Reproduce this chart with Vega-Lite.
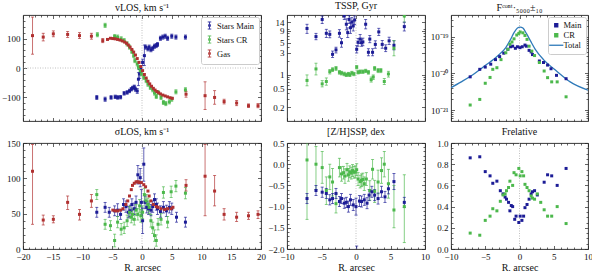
{
"$schema":"https://vega.github.io/schema/vega-lite/v6.json",
"background":"white",
"padding":{"left":0,"right":2,"top":0,"bottom":0},
"config":{
 "font":"Liberation Serif",
 "view":{"stroke":"#222","strokeWidth":0.9},
 "axis":{"grid":false,"domain":false,"tickColor":"#222","tickWidth":0.7,"tickSize":-3.5,"labelFont":"Liberation Serif","labelFontSize":9,"labelColor":"#111","labelPadding":6.5,"labelFlush":false,"labelOverlap":false,"titleFont":"Liberation Serif","titleFontSize":10,"titleFontWeight":"normal","titleColor":"#111","titlePadding":1},
 "title":{"font":"Liberation Serif","fontSize":10,"fontWeight":"normal","color":"#111","offset":2,"anchor":"middle"},
 "legend":{"labelFont":"Liberation Serif","labelFontSize":8.5,"labelColor":"#111"}
},
"datasets":{
"vlos":[
{"s":"Stars Main","R":-7.6,"v":-100,"lo":-107,"hi":-93},{"s":"Stars Main","R":-6.2,"v":-106,"lo":-113,"hi":-99},{"s":"Stars Main","R":-5.2,"v":-100,"lo":-106,"hi":-94},{"s":"Stars Main","R":-4.5,"v":-98,"lo":-104,"hi":-92},{"s":"Stars Main","R":-4.1,"v":-100,"lo":-106,"hi":-94},{"s":"Stars Main","R":-3.6,"v":-99,"lo":-105,"hi":-93},{"s":"Stars Main","R":-3.0,"v":-86,"lo":-92,"hi":-80},{"s":"Stars Main","R":-2.5,"v":-83,"lo":-89,"hi":-77},{"s":"Stars Main","R":-2.1,"v":-78,"lo":-84,"hi":-72},{"s":"Stars Main","R":-1.8,"v":-72,"lo":-78,"hi":-66},{"s":"Stars Main","R":-1.6,"v":-68,"lo":-74,"hi":-62},{"s":"Stars Main","R":-1.3,"v":-64,"lo":-70,"hi":-58},{"s":"Stars Main","R":-1.1,"v":-72,"lo":-79,"hi":-65},{"s":"Stars Main","R":-0.8,"v":-78,"lo":-86,"hi":-70},{"s":"Stars Main","R":-0.6,"v":-38,"lo":-60,"hi":-16},{"s":"Stars Main","R":-0.4,"v":-20,"lo":-35,"hi":-5},{"s":"Stars Main","R":-0.2,"v":-3,"lo":-14,"hi":8},{"s":"Stars Main","R":0.1,"v":19,"lo":8,"hi":30},{"s":"Stars Main","R":0.4,"v":42,"lo":8,"hi":78},{"s":"Stars Main","R":0.6,"v":71,"lo":64,"hi":78},{"s":"Stars Main","R":1.0,"v":65,"lo":58,"hi":72},{"s":"Stars Main","R":1.2,"v":71,"lo":64,"hi":78},{"s":"Stars Main","R":1.5,"v":62,"lo":55,"hi":69},{"s":"Stars Main","R":1.8,"v":67,"lo":60,"hi":74},{"s":"Stars Main","R":2.1,"v":74,"lo":67,"hi":81},{"s":"Stars Main","R":2.4,"v":76,"lo":69,"hi":83},{"s":"Stars Main","R":2.6,"v":80,"lo":73,"hi":87},{"s":"Stars Main","R":3.1,"v":101,"lo":94,"hi":108},{"s":"Stars Main","R":3.5,"v":105,"lo":98,"hi":112},{"s":"Stars Main","R":3.9,"v":108,"lo":101,"hi":115},{"s":"Stars Main","R":4.3,"v":101,"lo":94,"hi":108},{"s":"Stars Main","R":5.0,"v":108,"lo":101,"hi":115},{"s":"Stars Main","R":5.7,"v":105,"lo":98,"hi":112},{"s":"Stars Main","R":7.3,"v":105,"lo":98,"hi":112},
{"s":"Stars CR","R":-7.5,"v":113,"lo":106,"hi":120},{"s":"Stars CR","R":-6.2,"v":145,"lo":138,"hi":152},{"s":"Stars CR","R":-4.6,"v":107,"lo":100,"hi":114},{"s":"Stars CR","R":-4.1,"v":105,"lo":98,"hi":112},{"s":"Stars CR","R":-3.5,"v":99,"lo":92,"hi":106},{"s":"Stars CR","R":-3.0,"v":93,"lo":86,"hi":100},{"s":"Stars CR","R":-2.5,"v":82,"lo":75,"hi":89},{"s":"Stars CR","R":-2.1,"v":71,"lo":64,"hi":78},{"s":"Stars CR","R":-1.7,"v":56,"lo":49,"hi":63},{"s":"Stars CR","R":-1.4,"v":42,"lo":35,"hi":49},{"s":"Stars CR","R":-1.2,"v":25,"lo":18,"hi":32},{"s":"Stars CR","R":-0.8,"v":14,"lo":7,"hi":21},{"s":"Stars CR","R":-0.6,"v":2,"lo":-5,"hi":9},{"s":"Stars CR","R":-0.3,"v":-9,"lo":-16,"hi":-2},{"s":"Stars CR","R":-0.1,"v":-20,"lo":-27,"hi":-13},{"s":"Stars CR","R":0.3,"v":-32,"lo":-39,"hi":-25},{"s":"Stars CR","R":0.7,"v":-43,"lo":-50,"hi":-36},{"s":"Stars CR","R":1.0,"v":-55,"lo":-62,"hi":-48},{"s":"Stars CR","R":1.4,"v":-66,"lo":-73,"hi":-59},{"s":"Stars CR","R":1.8,"v":-74,"lo":-81,"hi":-67},{"s":"Stars CR","R":2.1,"v":-85,"lo":-92,"hi":-78},{"s":"Stars CR","R":2.4,"v":-97,"lo":-104,"hi":-90},{"s":"Stars CR","R":2.7,"v":-83,"lo":-90,"hi":-76},{"s":"Stars CR","R":3.2,"v":-100,"lo":-107,"hi":-93},{"s":"Stars CR","R":3.6,"v":-117,"lo":-124,"hi":-110},{"s":"Stars CR","R":4.0,"v":-121,"lo":-128,"hi":-114},{"s":"Stars CR","R":4.6,"v":-115,"lo":-122,"hi":-108},{"s":"Stars CR","R":5.0,"v":-106,"lo":-113,"hi":-99},{"s":"Stars CR","R":5.7,"v":-81,"lo":-88,"hi":-74},{"s":"Stars CR","R":7.3,"v":-74,"lo":-81,"hi":-67},
{"s":"Gas","R":-18.4,"v":110,"lo":47,"hi":173},{"s":"Gas","R":-16.6,"v":105,"lo":92,"hi":118},{"s":"Gas","R":-14.9,"v":116,"lo":106,"hi":126},{"s":"Gas","R":-12.5,"v":114,"lo":104,"hi":124},{"s":"Gas","R":-10.5,"v":110,"lo":100,"hi":120},{"s":"Gas","R":-8.5,"v":108,"lo":98,"hi":118},{"s":"Gas","R":-6.6,"v":93,"lo":86,"hi":100},{"s":"Gas","R":-5.8,"v":97},
{"s":"Gas","R":-5.3,"v":101},{"s":"Gas","R":-4.9,"v":100},{"s":"Gas","R":-4.5,"v":99},{"s":"Gas","R":-4.1,"v":97},{"s":"Gas","R":-3.7,"v":95},{"s":"Gas","R":-3.3,"v":92},{"s":"Gas","R":-2.9,"v":88},{"s":"Gas","R":-2.6,"v":84},{"s":"Gas","R":-2.3,"v":78},{"s":"Gas","R":-2.0,"v":71},{"s":"Gas","R":-1.7,"v":63},{"s":"Gas","R":-1.4,"v":54},{"s":"Gas","R":-1.1,"v":44},{"s":"Gas","R":-0.8,"v":32},{"s":"Gas","R":-0.5,"v":19},{"s":"Gas","R":-0.2,"v":5},{"s":"Gas","R":0.1,"v":-9},{"s":"Gas","R":0.4,"v":-22},{"s":"Gas","R":0.7,"v":-34},{"s":"Gas","R":1.0,"v":-45},{"s":"Gas","R":1.3,"v":-54},{"s":"Gas","R":1.6,"v":-62},{"s":"Gas","R":1.9,"v":-69},{"s":"Gas","R":2.2,"v":-75},{"s":"Gas","R":2.5,"v":-80},{"s":"Gas","R":2.8,"v":-84},{"s":"Gas","R":3.1,"v":-88},{"s":"Gas","R":3.5,"v":-92},{"s":"Gas","R":3.9,"v":-95},{"s":"Gas","R":4.3,"v":-98},{"s":"Gas","R":4.7,"v":-101},{"s":"Gas","R":5.1,"v":-103},
{"s":"Gas","R":7.4,"v":-89,"lo":-99,"hi":-79},{"s":"Gas","R":10.6,"v":-94,"lo":-141,"hi":-47},{"s":"Gas","R":12.2,"v":-100,"lo":-123,"hi":-77},{"s":"Gas","R":13.8,"v":-114,"lo":-122,"hi":-106},{"s":"Gas","R":15.9,"v":-119,"lo":-128,"hi":-110},{"s":"Gas","R":17.9,"v":-128,"lo":-134,"hi":-122},{"s":"Gas","R":19.5,"v":-128,"lo":-135,"hi":-121}
],
"tssp":[
{"s":"Main","R":-7.1,"v":10.2,"lo":8.0,"hi":12.6},{"s":"Main","R":-5.8,"v":6.8,"lo":5.8,"hi":8.0},{"s":"Main","R":-4.9,"v":16,"lo":13,"hi":19},{"s":"Main","R":-4.3,"v":8.0,"lo":6.5,"hi":9.8},{"s":"Main","R":-3.8,"v":7.6,"lo":6.4,"hi":9.0},{"s":"Main","R":-3.4,"v":2.8,"lo":2.4,"hi":3.3},{"s":"Main","R":-2.9,"v":3.5,"lo":3.0,"hi":4.0},{"s":"Main","R":-2.4,"v":8.0,"lo":6.6,"hi":9.6},{"s":"Main","R":-2.1,"v":5.0,"lo":4.0,"hi":6.2},{"s":"Main","R":-1.7,"v":19,"lo":16,"hi":23},{"s":"Main","R":-1.4,"v":12.6,"lo":9.5,"hi":16.5},{"s":"Main","R":-1.2,"v":8.3,"lo":6.5,"hi":10.5},{"s":"Main","R":-1.0,"v":16,"lo":13,"hi":19.5},{"s":"Main","R":-0.8,"v":10.6,"lo":8.0,"hi":14},{"s":"Main","R":-0.6,"v":14,"lo":11,"hi":17.5},{"s":"Main","R":-0.4,"v":11.6,"lo":9,"hi":15},{"s":"Main","R":-0.2,"v":15.6,"lo":12.5,"hi":19},{"s":"Main","R":0.1,"v":3.6,"lo":3.0,"hi":4.3},{"s":"Main","R":0.3,"v":5.1,"lo":4.2,"hi":6.2},{"s":"Main","R":0.6,"v":6.0,"lo":4.8,"hi":7.5},{"s":"Main","R":0.8,"v":5.0,"lo":4.2,"hi":6.0},{"s":"Main","R":1.0,"v":5.2,"lo":4.3,"hi":6.3},{"s":"Main","R":1.4,"v":12.6,"lo":10,"hi":16},{"s":"Main","R":1.8,"v":3.1,"lo":2.6,"hi":3.7},{"s":"Main","R":2.0,"v":6.0,"lo":5.0,"hi":7.2},{"s":"Main","R":2.4,"v":3.1,"lo":2.6,"hi":3.7},{"s":"Main","R":2.8,"v":4.6,"lo":3.8,"hi":5.5},{"s":"Main","R":3.3,"v":8.6,"lo":7.2,"hi":10.3},{"s":"Main","R":3.8,"v":4.6,"lo":3.8,"hi":5.6},{"s":"Main","R":4.3,"v":3.8,"lo":3.2,"hi":4.5},{"s":"Main","R":4.8,"v":5.5,"lo":4.6,"hi":6.6},{"s":"Main","R":5.5,"v":4.4,"lo":3.5,"hi":5.5},{"s":"Main","R":7.0,"v":11.2,"lo":9.0,"hi":14},
{"s":"CR","R":-7.1,"v":0.76,"lo":0.58,"hi":1.0},{"s":"CR","R":-5.8,"v":1.35,"lo":1.0,"hi":1.8},{"s":"CR","R":-4.9,"v":0.64,"lo":0.55,"hi":0.75},{"s":"CR","R":-4.3,"v":0.72,"lo":0.6,"hi":0.86},{"s":"CR","R":-3.8,"v":1.18,"lo":1.05,"hi":1.32},{"s":"CR","R":-3.4,"v":1.3,"lo":1.18,"hi":1.43},{"s":"CR","R":-2.9,"v":1.39,"lo":1.26,"hi":1.52},{"s":"CR","R":-2.4,"v":1.14,"lo":1.04,"hi":1.25},{"s":"CR","R":-2.1,"v":1.1,"lo":1.0,"hi":1.2},{"s":"CR","R":-1.7,"v":1.05,"lo":0.96,"hi":1.15},{"s":"CR","R":-1.4,"v":1.0,"lo":0.92,"hi":1.09},{"s":"CR","R":-1.1,"v":1.05,"lo":0.96,"hi":1.14},{"s":"CR","R":-0.9,"v":1.0,"lo":0.92,"hi":1.09},{"s":"CR","R":-0.6,"v":1.1,"lo":1.0,"hi":1.2},{"s":"CR","R":-0.3,"v":1.05,"lo":0.96,"hi":1.14},{"s":"CR","R":0.1,"v":1.47,"lo":1.35,"hi":1.6},{"s":"CR","R":0.3,"v":1.14,"lo":1.05,"hi":1.24},{"s":"CR","R":0.6,"v":1.18,"lo":1.08,"hi":1.28},{"s":"CR","R":1.0,"v":1.18,"lo":1.08,"hi":1.28},{"s":"CR","R":1.4,"v":1.22,"lo":1.12,"hi":1.33},{"s":"CR","R":1.8,"v":1.14,"lo":1.04,"hi":1.25},{"s":"CR","R":2.2,"v":0.79,"lo":0.7,"hi":0.9},{"s":"CR","R":2.5,"v":0.9,"lo":0.8,"hi":1.0},{"s":"CR","R":2.7,"v":1.39,"lo":1.26,"hi":1.52},{"s":"CR","R":3.2,"v":1.25,"lo":1.12,"hi":1.38},{"s":"CR","R":3.6,"v":1.25,"lo":1.12,"hi":1.38},{"s":"CR","R":4.1,"v":0.72,"lo":0.62,"hi":0.84},{"s":"CR","R":4.7,"v":1.05,"lo":0.9,"hi":1.2},{"s":"CR","R":5.5,"v":3.8,"lo":2.6,"hi":5.6},{"s":"CR","R":7.0,"v":19,"lo":14,"hi":30}
],
"flux":[
{"s":"Total","R":-10,"v":4.1e-21},{"s":"Total","R":-8.5,"v":5.9e-21},{"s":"Total","R":-7.1,"v":8.5e-21},{"s":"Total","R":-5.1,"v":1.6e-20},{"s":"Total","R":-3.2,"v":3.0e-20},{"s":"Total","R":-2.0,"v":5.1e-20},{"s":"Total","R":-1.3,"v":8.6e-20},{"s":"Total","R":-0.8,"v":1.31e-19},{"s":"Total","R":-0.3,"v":1.77e-19},{"s":"Total","R":0.1,"v":1.87e-19},{"s":"Total","R":0.5,"v":1.75e-19},{"s":"Total","R":1.0,"v":1.25e-19},{"s":"Total","R":1.6,"v":7.8e-20},{"s":"Total","R":2.3,"v":4.6e-20},{"s":"Total","R":3.5,"v":2.4e-20},{"s":"Total","R":5.4,"v":1.17e-20},{"s":"Total","R":7.4,"v":5.9e-21},{"s":"Total","R":10,"v":3.5e-21},
{"s":"Main","R":-7.2,"v":8.1e-21},{"s":"Main","R":-5.8,"v":1.3e-20},{"s":"Main","R":-5.0,"v":1.5e-20},{"s":"Main","R":-4.2,"v":1.8e-20},{"s":"Main","R":-3.5,"v":2.4e-20},{"s":"Main","R":-2.9,"v":2.9e-20},{"s":"Main","R":-2.3,"v":3.6e-20},{"s":"Main","R":-1.7,"v":4.6e-20},{"s":"Main","R":-1.3,"v":5.4e-20},{"s":"Main","R":-1.0,"v":5.6e-20},{"s":"Main","R":-0.6,"v":4.9e-20},{"s":"Main","R":-0.3,"v":5.4e-20},{"s":"Main","R":0.07,"v":5.1e-20},{"s":"Main","R":0.4,"v":5.4e-20},{"s":"Main","R":0.8,"v":6.0e-20},{"s":"Main","R":1.0,"v":5.6e-20},{"s":"Main","R":1.4,"v":4.3e-20},{"s":"Main","R":1.7,"v":3.9e-20},{"s":"Main","R":1.9,"v":3.3e-20},{"s":"Main","R":2.9,"v":2.2e-20},{"s":"Main","R":3.5,"v":2.0e-20},{"s":"Main","R":4.1,"v":1.7e-20},{"s":"Main","R":4.6,"v":1.35e-20},{"s":"Main","R":5.4,"v":8.9e-21},{"s":"Main","R":6.8,"v":7.2e-21},
{"s":"CR","R":-7.2,"v":1.37e-21},{"s":"CR","R":-5.8,"v":1.95e-21},{"s":"CR","R":-5.0,"v":5.4e-21},{"s":"CR","R":-4.3,"v":7.8e-21},{"s":"CR","R":-3.9,"v":1.3e-20},{"s":"CR","R":-3.3,"v":1.44e-20},{"s":"CR","R":-2.7,"v":2.4e-20},{"s":"CR","R":-2.0,"v":3.7e-20},{"s":"CR","R":-1.7,"v":4.6e-20},{"s":"CR","R":-1.4,"v":6.3e-20},{"s":"CR","R":-1.1,"v":7.3e-20},{"s":"CR","R":-0.8,"v":8.9e-20},{"s":"CR","R":-0.4,"v":1.13e-19},{"s":"CR","R":-0.1,"v":1.25e-19},{"s":"CR","R":0.1,"v":1.37e-19},{"s":"CR","R":0.5,"v":1.3e-19},{"s":"CR","R":0.8,"v":1.1e-19},{"s":"CR","R":1.1,"v":8.6e-20},{"s":"CR","R":1.4,"v":5.6e-20},{"s":"CR","R":1.8,"v":4.1e-20},{"s":"CR","R":2.2,"v":3.1e-20},{"s":"CR","R":2.9,"v":2.0e-20},{"s":"CR","R":3.6,"v":1.17e-20},{"s":"CR","R":4.1,"v":7.7e-21},{"s":"CR","R":4.7,"v":5.9e-21},{"s":"CR","R":5.5,"v":5.9e-21},{"s":"CR","R":6.8,"v":2.3e-21}
],
"sigma":[
{"s":"Stars Main","R":-7.6,"v":52,"lo":45,"hi":59},{"s":"Stars Main","R":-6.2,"v":59,"lo":52,"hi":66},{"s":"Stars Main","R":-5.5,"v":52,"lo":45,"hi":59},{"s":"Stars Main","R":-4.6,"v":54,"lo":47,"hi":61},{"s":"Stars Main","R":-4.1,"v":55,"lo":46,"hi":64},{"s":"Stars Main","R":-3.6,"v":49,"lo":42,"hi":56},{"s":"Stars Main","R":-3.1,"v":63,"lo":55,"hi":71},{"s":"Stars Main","R":-2.7,"v":60,"lo":52,"hi":68},{"s":"Stars Main","R":-2.3,"v":52,"lo":44,"hi":60},{"s":"Stars Main","R":-2.0,"v":54,"lo":46,"hi":62},{"s":"Stars Main","R":-1.7,"v":63,"lo":55,"hi":71},{"s":"Stars Main","R":-1.3,"v":57,"lo":49,"hi":65},{"s":"Stars Main","R":-1.0,"v":66,"lo":57,"hi":75},{"s":"Stars Main","R":-0.7,"v":105,"lo":92,"hi":118},{"s":"Stars Main","R":-0.3,"v":101,"lo":88,"hi":114},{"s":"Stars Main","R":-0.1,"v":66,"lo":48,"hi":84},{"s":"Stars Main","R":0.1,"v":40,"lo":22,"hi":58},{"s":"Stars Main","R":0.3,"v":120,"lo":96,"hi":143},{"s":"Stars Main","R":0.5,"v":66,"lo":57,"hi":75},{"s":"Stars Main","R":0.8,"v":59,"lo":51,"hi":67},{"s":"Stars Main","R":1.1,"v":57,"lo":49,"hi":65},{"s":"Stars Main","R":1.5,"v":55,"lo":47,"hi":63},{"s":"Stars Main","R":1.8,"v":60,"lo":52,"hi":68},{"s":"Stars Main","R":2.1,"v":70,"lo":62,"hi":78},{"s":"Stars Main","R":2.4,"v":63,"lo":55,"hi":71},{"s":"Stars Main","R":2.6,"v":57,"lo":49,"hi":65},{"s":"Stars Main","R":3.1,"v":53,"lo":45,"hi":61},{"s":"Stars Main","R":3.6,"v":59,"lo":51,"hi":67},{"s":"Stars Main","R":4.1,"v":54,"lo":46,"hi":62},{"s":"Stars Main","R":4.6,"v":59,"lo":51,"hi":67},{"s":"Stars Main","R":5.0,"v":57,"lo":49,"hi":65},{"s":"Stars Main","R":5.8,"v":45,"lo":38,"hi":52},{"s":"Stars Main","R":7.3,"v":38,"lo":31,"hi":45},
{"s":"Stars CR","R":-7.6,"v":77,"lo":70,"hi":84},{"s":"Stars CR","R":-6.2,"v":35,"lo":28,"hi":42},{"s":"Stars CR","R":-5.3,"v":33,"lo":26,"hi":40},{"s":"Stars CR","R":-4.6,"v":12,"lo":3,"hi":21},{"s":"Stars CR","R":-4.1,"v":38,"lo":30,"hi":46},{"s":"Stars CR","R":-3.5,"v":28,"lo":20,"hi":36},{"s":"Stars CR","R":-3.0,"v":30,"lo":22,"hi":38},{"s":"Stars CR","R":-2.5,"v":40,"lo":32,"hi":48},{"s":"Stars CR","R":-2.1,"v":52,"lo":44,"hi":60},{"s":"Stars CR","R":-1.8,"v":45,"lo":37,"hi":53},{"s":"Stars CR","R":-1.6,"v":49,"lo":41,"hi":57},{"s":"Stars CR","R":-1.3,"v":42,"lo":34,"hi":50},{"s":"Stars CR","R":-1.0,"v":55,"lo":47,"hi":63},{"s":"Stars CR","R":-0.7,"v":49,"lo":41,"hi":57},{"s":"Stars CR","R":-0.4,"v":61,"lo":52,"hi":70},{"s":"Stars CR","R":-0.2,"v":47,"lo":38,"hi":56},{"s":"Stars CR","R":0.1,"v":52,"lo":43,"hi":61},{"s":"Stars CR","R":0.4,"v":77,"lo":68,"hi":86},{"s":"Stars CR","R":0.7,"v":68,"lo":59,"hi":77},{"s":"Stars CR","R":1.0,"v":63,"lo":54,"hi":72},{"s":"Stars CR","R":1.2,"v":59,"lo":50,"hi":68},{"s":"Stars CR","R":1.5,"v":40,"lo":31,"hi":49},{"s":"Stars CR","R":1.8,"v":30,"lo":22,"hi":38},{"s":"Stars CR","R":2.1,"v":19,"lo":11,"hi":27},{"s":"Stars CR","R":2.4,"v":12,"lo":4,"hi":20},{"s":"Stars CR","R":2.7,"v":35,"lo":27,"hi":43},{"s":"Stars CR","R":3.2,"v":42,"lo":34,"hi":50},{"s":"Stars CR","R":3.6,"v":80,"lo":72,"hi":88},{"s":"Stars CR","R":4.3,"v":38,"lo":30,"hi":46},{"s":"Stars CR","R":4.9,"v":81,"lo":73,"hi":89},{"s":"Stars CR","R":5.7,"v":89,"lo":81,"hi":97},{"s":"Stars CR","R":7.3,"v":79,"lo":71,"hi":87},
{"s":"Gas","R":-18.4,"v":110,"lo":35,"hi":148},{"s":"Gas","R":-16.6,"v":41,"lo":34,"hi":48},{"s":"Gas","R":-14.9,"v":42,"lo":37,"hi":47},{"s":"Gas","R":-12.5,"v":66,"lo":56,"hi":75},{"s":"Gas","R":-10.5,"v":49,"lo":41,"hi":56},{"s":"Gas","R":-8.5,"v":68,"lo":59,"hi":77},
{"s":"Gas","R":-4.9,"v":55},{"s":"Gas","R":-4.5,"v":54},{"s":"Gas","R":-4.1,"v":54},{"s":"Gas","R":-3.6,"v":55},{"s":"Gas","R":-3.2,"v":57},{"s":"Gas","R":-2.7,"v":63},{"s":"Gas","R":-2.4,"v":68},{"s":"Gas","R":-2.1,"v":75},{"s":"Gas","R":-1.8,"v":84},{"s":"Gas","R":-1.6,"v":90},{"s":"Gas","R":-1.3,"v":93},{"s":"Gas","R":-1.0,"v":95},{"s":"Gas","R":-0.8,"v":95},{"s":"Gas","R":-0.6,"v":95},{"s":"Gas","R":-0.4,"v":94},{"s":"Gas","R":-0.1,"v":94},{"s":"Gas","R":0.3,"v":91},{"s":"Gas","R":0.6,"v":88},{"s":"Gas","R":1.0,"v":82},{"s":"Gas","R":1.2,"v":75},{"s":"Gas","R":1.5,"v":68},{"s":"Gas","R":1.9,"v":63},{"s":"Gas","R":2.4,"v":60},{"s":"Gas","R":2.7,"v":59},{"s":"Gas","R":3.2,"v":57},{"s":"Gas","R":3.8,"v":56},{"s":"Gas","R":4.3,"v":57},{"s":"Gas","R":4.9,"v":57},{"s":"Gas","R":5.2,"v":59},
{"s":"Gas","R":7.4,"v":90,"lo":82,"hi":98},{"s":"Gas","R":10.6,"v":103,"lo":47,"hi":148},{"s":"Gas","R":12.2,"v":82,"lo":61,"hi":104},{"s":"Gas","R":13.8,"v":49,"lo":41,"hi":57},{"s":"Gas","R":15.9,"v":45,"lo":39,"hi":52},{"s":"Gas","R":17.9,"v":47,"lo":42,"hi":52},{"s":"Gas","R":19.5,"v":49,"lo":43,"hi":54}
],
"zh":[
{"s":"CR","R":-7.1,"v":0.1,"lo":-1.3,"hi":0.55},{"s":"CR","R":-5.8,"v":0.0,"lo":-0.6,"hi":0.42},{"s":"CR","R":-4.9,"v":-0.08,"lo":-0.45,"hi":0.3},{"s":"CR","R":-4.3,"v":-0.62,"lo":-0.95,"hi":-0.3},{"s":"CR","R":-3.8,"v":-0.3,"lo":-0.6,"hi":0.0},{"s":"CR","R":-3.4,"v":-0.42,"lo":-0.75,"hi":-0.1},{"s":"CR","R":-2.9,"v":-0.93,"lo":-1.15,"hi":-0.7},{"s":"CR","R":-2.4,"v":-0.08,"lo":-0.3,"hi":0.14},{"s":"CR","R":-2.1,"v":-0.23,"lo":-0.4,"hi":-0.06},{"s":"CR","R":-1.8,"v":-0.2,"lo":-0.35,"hi":-0.05},{"s":"CR","R":-1.6,"v":-0.28,"lo":-0.45,"hi":-0.11},{"s":"CR","R":-1.3,"v":-0.13,"lo":-0.28,"hi":0.02},{"s":"CR","R":-1.1,"v":-0.25,"lo":-0.4,"hi":-0.1},{"s":"CR","R":-0.9,"v":-0.18,"lo":-0.32,"hi":-0.04},{"s":"CR","R":-0.7,"v":-0.21,"lo":-0.35,"hi":-0.07},{"s":"CR","R":-0.5,"v":-0.15,"lo":-0.29,"hi":-0.01},{"s":"CR","R":-0.3,"v":-0.19,"lo":-0.33,"hi":-0.05},{"s":"CR","R":-0.1,"v":-0.18,"lo":-0.32,"hi":-0.04},{"s":"CR","R":0.1,"v":-0.13,"lo":-0.27,"hi":0.01},{"s":"CR","R":0.3,"v":-0.35,"lo":-0.5,"hi":-0.2},{"s":"CR","R":0.6,"v":-0.41,"lo":-0.56,"hi":-0.26},{"s":"CR","R":0.8,"v":-0.38,"lo":-0.53,"hi":-0.23},{"s":"CR","R":1.0,"v":-0.36,"lo":-0.51,"hi":-0.21},{"s":"CR","R":1.2,"v":-0.46,"lo":-0.62,"hi":-0.3},{"s":"CR","R":1.5,"v":-0.35,"lo":-0.5,"hi":-0.2},{"s":"CR","R":2.0,"v":-0.62,"lo":-0.85,"hi":-0.39},{"s":"CR","R":2.4,"v":-0.12,"lo":-0.35,"hi":0.11},{"s":"CR","R":2.7,"v":-0.64,"lo":-0.9,"hi":-0.38},{"s":"CR","R":3.2,"v":-0.42,"lo":-0.7,"hi":-0.14},{"s":"CR","R":3.7,"v":-0.15,"lo":-0.45,"hi":0.15},{"s":"CR","R":4.1,"v":0.0,"lo":-0.3,"hi":0.3},{"s":"CR","R":4.7,"v":-0.46,"lo":-0.8,"hi":-0.12},{"s":"CR","R":5.5,"v":-1.08,"lo":-1.5,"hi":-0.5},{"s":"CR","R":7.0,"v":-1.0,"lo":-1.85,"hi":-0.25},
{"s":"Main","R":-7.1,"v":-0.81,"lo":-0.93,"hi":-0.69},{"s":"Main","R":-5.8,"v":-0.62,"lo":-0.74,"hi":-0.5},{"s":"Main","R":-4.9,"v":-0.66,"lo":-0.78,"hi":-0.54},{"s":"Main","R":-4.3,"v":-0.69,"lo":-0.81,"hi":-0.57},{"s":"Main","R":-3.8,"v":-0.84,"lo":-0.96,"hi":-0.72},{"s":"Main","R":-3.4,"v":-0.81,"lo":-0.93,"hi":-0.69},{"s":"Main","R":-2.9,"v":-0.69,"lo":-0.81,"hi":-0.57},{"s":"Main","R":-2.4,"v":-0.88,"lo":-1.0,"hi":-0.76},{"s":"Main","R":-2.1,"v":-0.81,"lo":-0.93,"hi":-0.69},{"s":"Main","R":-1.7,"v":-0.92,"lo":-1.04,"hi":-0.8},{"s":"Main","R":-1.4,"v":-0.9,"lo":-1.02,"hi":-0.78},{"s":"Main","R":-1.1,"v":-1.0,"lo":-1.13,"hi":-0.87},{"s":"Main","R":-0.8,"v":-0.84,"lo":-0.97,"hi":-0.71},{"s":"Main","R":-0.4,"v":-0.96,"lo":-1.09,"hi":-0.83},{"s":"Main","R":0.0,"v":-1.0,"lo":-1.2,"hi":-0.8},{"s":"Main","R":0.1,"v":-2.05,"lo":-2.2,"hi":-1.93},{"s":"Main","R":0.5,"v":-0.87,"lo":-1.0,"hi":-0.74},{"s":"Main","R":0.8,"v":-0.88,"lo":-1.01,"hi":-0.75},{"s":"Main","R":1.2,"v":-0.84,"lo":-0.97,"hi":-0.71},{"s":"Main","R":1.6,"v":-0.92,"lo":-1.05,"hi":-0.79},{"s":"Main","R":1.9,"v":-0.73,"lo":-0.86,"hi":-0.6},{"s":"Main","R":2.3,"v":-0.65,"lo":-0.78,"hi":-0.52},{"s":"Main","R":2.7,"v":-0.73,"lo":-0.86,"hi":-0.6},{"s":"Main","R":3.2,"v":-0.81,"lo":-0.94,"hi":-0.68},{"s":"Main","R":3.7,"v":-0.65,"lo":-0.78,"hi":-0.52},{"s":"Main","R":4.2,"v":-0.77,"lo":-0.9,"hi":-0.64},{"s":"Main","R":4.7,"v":-0.58,"lo":-0.7,"hi":-0.46},{"s":"Main","R":5.5,"v":-0.41,"lo":-0.6,"hi":-0.22},{"s":"Main","R":7.0,"v":-0.9,"lo":-1.02,"hi":-0.78}
],
"frel":[
{"s":"Main","R":-7.2,"v":0.86},{"s":"Main","R":-5.8,"v":0.87},{"s":"Main","R":-5.0,"v":0.73},{"s":"Main","R":-4.3,"v":0.69},{"s":"Main","R":-3.9,"v":0.62},{"s":"Main","R":-3.3,"v":0.64},{"s":"Main","R":-2.8,"v":0.55},{"s":"Main","R":-2.4,"v":0.52},{"s":"Main","R":-2.1,"v":0.49},{"s":"Main","R":-1.9,"v":0.47},{"s":"Main","R":-1.6,"v":0.44},{"s":"Main","R":-1.4,"v":0.36},{"s":"Main","R":-1.2,"v":0.41},{"s":"Main","R":-1.0,"v":0.4},{"s":"Main","R":-0.7,"v":0.28},{"s":"Main","R":-0.5,"v":0.31},{"s":"Main","R":-0.1,"v":0.25},{"s":"Main","R":0.1,"v":0.31},{"s":"Main","R":0.35,"v":0.27},{"s":"Main","R":0.6,"v":0.31},{"s":"Main","R":0.8,"v":0.39},{"s":"Main","R":1.1,"v":0.42},{"s":"Main","R":1.4,"v":0.47},{"s":"Main","R":1.7,"v":0.52},{"s":"Main","R":1.9,"v":0.54},{"s":"Main","R":2.2,"v":0.55},{"s":"Main","R":2.6,"v":0.51},{"s":"Main","R":3.6,"v":0.63},{"s":"Main","R":4.1,"v":0.7},{"s":"Main","R":4.7,"v":0.69},{"s":"Main","R":5.5,"v":0.6},{"s":"Main","R":6.8,"v":0.76},
{"s":"CR","R":-7.2,"v":0.15},{"s":"CR","R":-5.8,"v":0.13},{"s":"CR","R":-5.0,"v":0.27},{"s":"CR","R":-4.3,"v":0.31},{"s":"CR","R":-3.9,"v":0.38},{"s":"CR","R":-3.3,"v":0.36},{"s":"CR","R":-2.8,"v":0.45},{"s":"CR","R":-2.4,"v":0.51},{"s":"CR","R":-2.1,"v":0.52},{"s":"CR","R":-1.9,"v":0.55},{"s":"CR","R":-1.6,"v":0.58},{"s":"CR","R":-1.4,"v":0.64},{"s":"CR","R":-1.0,"v":0.6},{"s":"CR","R":-0.8,"v":0.72},{"s":"CR","R":-0.5,"v":0.7},{"s":"CR","R":-0.1,"v":0.76},{"s":"CR","R":0.1,"v":0.69},{"s":"CR","R":0.35,"v":0.73},{"s":"CR","R":0.6,"v":0.69},{"s":"CR","R":0.8,"v":0.61},{"s":"CR","R":1.1,"v":0.58},{"s":"CR","R":1.4,"v":0.55},{"s":"CR","R":1.7,"v":0.5},{"s":"CR","R":1.9,"v":0.48},{"s":"CR","R":2.2,"v":0.47},{"s":"CR","R":2.6,"v":0.52},{"s":"CR","R":3.1,"v":0.44},{"s":"CR","R":3.6,"v":0.37},{"s":"CR","R":4.1,"v":0.31},{"s":"CR","R":4.7,"v":0.31},{"s":"CR","R":5.5,"v":0.4},{"s":"CR","R":6.8,"v":0.24}
]
},
"columns":3,
"spacing":{"row":22,"column":26},
"bounds":"flush",
"align":"each",
"resolve":{"scale":{"color":"independent"}},
"concat":[
{"width":238,"height":106,"title":"vLOS, km s⁻¹","data":{"name":"vlos"},
 "resolve":{"axis":{"x":"independent","y":"independent"}},
 "layer":[
  {"data":{"values":[{}]},"mark":{"type":"rule","color":"#b0b0b0","strokeDash":[1,1.5],"strokeWidth":0.8},"encoding":{"x":{"datum":0,"type":"quantitative","axis":null}}},
  {"data":{"values":[{}]},"mark":{"type":"rule","color":"#b0b0b0","strokeDash":[1,1.5],"strokeWidth":0.8},"encoding":{"y":{"datum":0,"type":"quantitative","axis":null}}},
  {"mark":{"type":"point","opacity":0},"encoding":{
    "x":{"field":"R","type":"quantitative","scale":{"domain":[-20,20],"nice":false,"zero":false},"axis":{"orient":"bottom","values":[-20,-15,-10,-5,0,5,10,15,20],"labels":false,"title":null}},
    "y":{"field":"v","type":"quantitative","scale":{"domain":[-180,180],"nice":false,"zero":false},"axis":{"orient":"left","values":[-100,0,100],"format":"d","title":null}}}},
  {"mark":{"type":"point","opacity":0},"encoding":{
    "x":{"field":"R","type":"quantitative","axis":{"orient":"top","values":[-20,-15,-10,-5,0,5,10,15,20],"labels":false,"title":null}},
    "y":{"field":"v","type":"quantitative","axis":{"orient":"right","values":[-100,0,100],"labels":false,"title":null}}}},
  {"mark":{"type":"point","opacity":0},"encoding":{
    "x":{"field":"R","type":"quantitative","axis":{"orient":"bottom","values":[-19,-18,-17,-16,-14,-13,-12,-11,-9,-8,-7,-6,-4,-3,-2,-1,1,2,3,4,6,7,8,9,11,12,13,14,16,17,18,19],"labels":false,"tickSize":-2,"title":null}},
    "y":{"field":"v","type":"quantitative","axis":{"orient":"left","values":[-160,-140,-120,-80,-60,-40,-20,20,40,60,80,120,140,160],"labels":false,"tickSize":-2,"title":null}}}},
  {"mark":{"type":"point","opacity":0},"encoding":{
    "x":{"field":"R","type":"quantitative","axis":{"orient":"top","values":[-19,-18,-17,-16,-14,-13,-12,-11,-9,-8,-7,-6,-4,-3,-2,-1,1,2,3,4,6,7,8,9,11,12,13,14,16,17,18,19],"labels":false,"tickSize":-2,"title":null}},
    "y":{"field":"v","type":"quantitative","axis":{"orient":"right","values":[-160,-140,-120,-80,-60,-40,-20,20,40,60,80,120,140,160],"labels":false,"tickSize":-2,"title":null}}}},
  {"transform":[{"filter":"isValid(datum.lo)"}],"mark":{"type":"rule","strokeWidth":0.8,"opacity":0.85,"clip":true},"encoding":{
    "x":{"field":"R","type":"quantitative","axis":null},"y":{"field":"lo","type":"quantitative","axis":null},"y2":{"field":"hi"},
    "color":{"field":"s","type":"nominal","scale":{"domain":["Stars Main","Stars CR","Gas"],"range":["#1c1c96","#4cb84c","#b03030"]},
      "legend":{"orient":"top-right","title":null,"offset":2,"padding":4,"fillColor":"white","strokeColor":"#cccccc","cornerRadius":2,"rowPadding":1,"labelFontSize":8.5,"labelOffset":3,"symbolType":"M0,-1L0,1M-0.5,-1L0.5,-1M-0.5,1L0.5,1M-0.25,-0.25L0.25,-0.25L0.25,0.25L-0.25,0.25Z","symbolSize":50,"symbolStrokeWidth":1,
      "encode":{"symbols":{"update":{"fill":{"value":"transparent"},"stroke":{"signal":"datum.value==='Stars Main' ? '#1c1c96' : datum.value==='Stars CR' ? '#4cb84c' : '#b03030'"}}}}}}}},
  {"transform":[{"filter":"isValid(datum.lo)"}],"mark":{"type":"tick","orient":"horizontal","size":3,"thickness":0.8,"opacity":0.85,"clip":true},"encoding":{
    "x":{"field":"R","type":"quantitative","axis":null},"y":{"field":"lo","type":"quantitative","axis":null},
    "color":{"field":"s","type":"nominal"}}},
  {"transform":[{"filter":"isValid(datum.lo)"}],"mark":{"type":"tick","orient":"horizontal","size":3,"thickness":0.8,"opacity":0.85,"clip":true},"encoding":{
    "x":{"field":"R","type":"quantitative","axis":null},"y":{"field":"hi","type":"quantitative","axis":null},
    "color":{"field":"s","type":"nominal"}}},
  {"mark":{"type":"point","shape":"square","filled":true,"size":9,"opacity":1,"clip":true},"encoding":{
    "x":{"field":"R","type":"quantitative","axis":null},"y":{"field":"v","type":"quantitative","axis":null},
    "color":{"field":"s","type":"nominal"}}}
 ]},
{"width":138,"height":106,"title":"TSSP, Gyr","data":{"name":"tssp"},
 "resolve":{"axis":{"x":"independent","y":"independent"}},
 "layer":[
  {"data":{"values":[{}]},"mark":{"type":"rule","color":"#b0b0b0","strokeDash":[1,1.5],"strokeWidth":0.8},"encoding":{"x":{"datum":0,"type":"quantitative","axis":null}}},
  {"mark":{"type":"point","opacity":0},"encoding":{
    "x":{"field":"R","type":"quantitative","scale":{"domain":[-10,10],"nice":false,"zero":false},"axis":{"orient":"bottom","values":[-10,-5,0,5,10],"labels":false,"title":null}},
    "y":{"field":"v","type":"quantitative","scale":{"type":"log","domain":[0.1,20],"nice":false},"axis":{"orient":"left","values":[0.2,0.5,1,3,5,9,14],"format":"~g","title":null}}}},
  {"mark":{"type":"point","opacity":0},"encoding":{
    "x":{"field":"R","type":"quantitative","axis":{"orient":"top","values":[-10,-5,0,5,10],"labels":false,"title":null}},
    "y":{"field":"v","type":"quantitative","axis":{"orient":"right","values":[0.2,0.5,1,3,5,9,14],"labels":false,"title":null}}}},
  {"mark":{"type":"point","opacity":0},"encoding":{
    "x":{"field":"R","type":"quantitative","axis":{"orient":"bottom","values":[-9,-8,-7,-6,-4,-3,-2,-1,1,2,3,4,6,7,8,9],"labels":false,"tickSize":-2,"title":null}},
    "y":{"field":"v","type":"quantitative","axis":{"orient":"left","values":[0.3,0.4,0.6,0.7,0.8,0.9,2,4,6,7,8,10],"labels":false,"tickSize":-2,"title":null}}}},
  {"mark":{"type":"point","opacity":0},"encoding":{
    "x":{"field":"R","type":"quantitative","axis":{"orient":"top","values":[-9,-8,-7,-6,-4,-3,-2,-1,1,2,3,4,6,7,8,9],"labels":false,"tickSize":-2,"title":null}},
    "y":{"field":"v","type":"quantitative","axis":{"orient":"right","values":[0.3,0.4,0.6,0.7,0.8,0.9,2,4,6,7,8,10],"labels":false,"tickSize":-2,"title":null}}}},
  {"mark":{"type":"rule","strokeWidth":0.8,"opacity":0.85,"clip":true},"encoding":{
    "x":{"field":"R","type":"quantitative","axis":null},"y":{"field":"lo","type":"quantitative","axis":null},"y2":{"field":"hi"},
    "color":{"field":"s","type":"nominal","scale":{"domain":["Main","CR"],"range":["#1c1c96","#4cb84c"]},"legend":null}}},
  {"mark":{"type":"tick","orient":"horizontal","size":3,"thickness":0.8,"opacity":0.85,"clip":true},"encoding":{
    "x":{"field":"R","type":"quantitative","axis":null},"y":{"field":"lo","type":"quantitative","axis":null},"color":{"field":"s","type":"nominal","legend":null}}},
  {"mark":{"type":"tick","orient":"horizontal","size":3,"thickness":0.8,"opacity":0.85,"clip":true},"encoding":{
    "x":{"field":"R","type":"quantitative","axis":null},"y":{"field":"hi","type":"quantitative","axis":null},"color":{"field":"s","type":"nominal","legend":null}}},
  {"mark":{"type":"point","shape":"square","filled":true,"size":9,"opacity":1,"clip":true},"encoding":{
    "x":{"field":"R","type":"quantitative","axis":null},"y":{"field":"v","type":"quantitative","axis":null},"color":{"field":"s","type":"nominal","legend":null}}}
 ]},
{"width":137,"height":106,"title":"Fᶜᵒⁿᵗ·₅₀₀₀±₁₀","data":{"name":"flux"},
 "resolve":{"axis":{"x":"independent","y":"independent"}},
 "layer":[
  {"data":{"values":[{}]},"mark":{"type":"rule","color":"#b0b0b0","strokeDash":[1,1.5],"strokeWidth":0.8},"encoding":{"x":{"datum":0,"type":"quantitative","axis":null}}},
  {"mark":{"type":"point","opacity":0},"encoding":{
    "x":{"field":"R","type":"quantitative","scale":{"domain":[-10,10],"nice":false,"zero":false},"axis":{"orient":"bottom","values":[-10,-5,0,5,10],"labels":false,"title":null}},
    "y":{"field":"v","type":"quantitative","scale":{"type":"log","domain":[5e-22,4e-19],"nice":false},"axis":{"orient":"left","values":[1e-21,1e-20,1e-19],"labelExpr":"datum.value < 5e-21 ? '10⁻²¹' : datum.value < 5e-20 ? '10⁻²⁰' : '10⁻¹⁹'","title":null}}}},
  {"mark":{"type":"point","opacity":0},"encoding":{
    "x":{"field":"R","type":"quantitative","axis":{"orient":"top","values":[-10,-5,0,5,10],"labels":false,"title":null}},
    "y":{"field":"v","type":"quantitative","axis":{"orient":"right","values":[1e-21,1e-20,1e-19],"labels":false,"title":null}}}},
  {"mark":{"type":"point","opacity":0},"encoding":{
    "x":{"field":"R","type":"quantitative","axis":{"orient":"bottom","values":[-9,-8,-7,-6,-4,-3,-2,-1,1,2,3,4,6,7,8,9],"labels":false,"tickSize":-2,"title":null}},
    "y":{"field":"v","type":"quantitative","axis":{"orient":"left","values":[6e-22,7e-22,8e-22,9e-22,2e-21,3e-21,4e-21,5e-21,6e-21,7e-21,8e-21,9e-21,2e-20,3e-20,4e-20,5e-20,6e-20,7e-20,8e-20,9e-20,2e-19,3e-19],"labels":false,"tickSize":-2,"title":null}}}},
  {"mark":{"type":"point","opacity":0},"encoding":{
    "x":{"field":"R","type":"quantitative","axis":{"orient":"top","values":[-9,-8,-7,-6,-4,-3,-2,-1,1,2,3,4,6,7,8,9],"labels":false,"tickSize":-2,"title":null}},
    "y":{"field":"v","type":"quantitative","axis":{"orient":"right","values":[6e-22,7e-22,8e-22,9e-22,2e-21,3e-21,4e-21,5e-21,6e-21,7e-21,8e-21,9e-21,2e-20,3e-20,4e-20,5e-20,6e-20,7e-20,8e-20,9e-20,2e-19,3e-19],"labels":false,"tickSize":-2,"title":null}}}},
  {"transform":[{"filter":"datum.s === 'Total'"}],"mark":{"type":"line","strokeWidth":1.3,"interpolate":"monotone","clip":true},"encoding":{
    "x":{"field":"R","type":"quantitative","axis":null},"y":{"field":"v","type":"quantitative","axis":null},
    "color":{"field":"s","type":"nominal","scale":{"domain":["Main","CR","Total"],"range":["#1c1c96","#4cb84c","#2f7ab9"]},
      "legend":{"orient":"top-right","title":null,"offset":2,"padding":4,"fillColor":"white","strokeColor":"#cccccc","cornerRadius":2,"rowPadding":1,"labelFontSize":8.5,"labelOffset":3,"symbolSize":200,"symbolStrokeWidth":1.3,
      "encode":{"symbols":{"update":{"shape":{"signal":"datum.value==='Total' ? 'stroke' : 'square'"},"size":{"signal":"datum.value==='Total' ? 200 : 9"},"fill":{"signal":"datum.value==='Main' ? '#1c1c96' : datum.value==='CR' ? '#4cb84c' : 'transparent'"},"stroke":{"signal":"datum.value==='Total' ? '#2f7ab9' : 'transparent'"}}}}}}}},
  {"transform":[{"filter":"datum.s !== 'Total'"}],"mark":{"type":"point","shape":"square","filled":true,"size":9,"opacity":1,"clip":true},"encoding":{
    "x":{"field":"R","type":"quantitative","axis":null},"y":{"field":"v","type":"quantitative","axis":null},
    "color":{"field":"s","type":"nominal"}}}
 ]},
{"width":238,"height":106,"title":"σLOS, km s⁻¹","data":{"name":"sigma"},
 "resolve":{"axis":{"x":"independent","y":"independent"}},
 "layer":[
  {"data":{"values":[{}]},"mark":{"type":"rule","color":"#b0b0b0","strokeDash":[1,1.5],"strokeWidth":0.8},"encoding":{"x":{"datum":0,"type":"quantitative","axis":null}}},
  {"mark":{"type":"point","opacity":0},"encoding":{
    "x":{"field":"R","type":"quantitative","scale":{"domain":[-20,20],"nice":false,"zero":false},"axis":{"orient":"bottom","values":[-20,-15,-10,-5,0,5,10,15,20],"format":"d","title":"R, arcsec"}},
    "y":{"field":"v","type":"quantitative","scale":{"domain":[0,150],"nice":false,"zero":false},"axis":{"orient":"left","values":[0,50,100,150],"format":"d","title":null}}}},
  {"mark":{"type":"point","opacity":0},"encoding":{
    "x":{"field":"R","type":"quantitative","axis":{"orient":"top","values":[-20,-15,-10,-5,0,5,10,15,20],"labels":false,"title":null}},
    "y":{"field":"v","type":"quantitative","axis":{"orient":"right","values":[0,50,100,150],"labels":false,"title":null}}}},
  {"mark":{"type":"point","opacity":0},"encoding":{
    "x":{"field":"R","type":"quantitative","axis":{"orient":"bottom","values":[-19,-18,-17,-16,-14,-13,-12,-11,-9,-8,-7,-6,-4,-3,-2,-1,1,2,3,4,6,7,8,9,11,12,13,14,16,17,18,19],"labels":false,"tickSize":-2,"title":null}},
    "y":{"field":"v","type":"quantitative","axis":{"orient":"left","values":[10,20,30,40,60,70,80,90,110,120,130,140],"labels":false,"tickSize":-2,"title":null}}}},
  {"mark":{"type":"point","opacity":0},"encoding":{
    "x":{"field":"R","type":"quantitative","axis":{"orient":"top","values":[-19,-18,-17,-16,-14,-13,-12,-11,-9,-8,-7,-6,-4,-3,-2,-1,1,2,3,4,6,7,8,9,11,12,13,14,16,17,18,19],"labels":false,"tickSize":-2,"title":null}},
    "y":{"field":"v","type":"quantitative","axis":{"orient":"right","values":[10,20,30,40,60,70,80,90,110,120,130,140],"labels":false,"tickSize":-2,"title":null}}}},
  {"transform":[{"filter":"isValid(datum.lo)"}],"mark":{"type":"rule","strokeWidth":0.8,"opacity":0.85,"clip":true},"encoding":{
    "x":{"field":"R","type":"quantitative","axis":null},"y":{"field":"lo","type":"quantitative","axis":null},"y2":{"field":"hi"},
    "color":{"field":"s","type":"nominal","scale":{"domain":["Stars Main","Stars CR","Gas"],"range":["#1c1c96","#4cb84c","#b03030"]},"legend":null}}},
  {"transform":[{"filter":"isValid(datum.lo)"}],"mark":{"type":"tick","orient":"horizontal","size":3,"thickness":0.8,"opacity":0.85,"clip":true},"encoding":{
    "x":{"field":"R","type":"quantitative","axis":null},"y":{"field":"lo","type":"quantitative","axis":null},"color":{"field":"s","type":"nominal","legend":null}}},
  {"transform":[{"filter":"isValid(datum.lo)"}],"mark":{"type":"tick","orient":"horizontal","size":3,"thickness":0.8,"opacity":0.85,"clip":true},"encoding":{
    "x":{"field":"R","type":"quantitative","axis":null},"y":{"field":"hi","type":"quantitative","axis":null},"color":{"field":"s","type":"nominal","legend":null}}},
  {"mark":{"type":"point","shape":"square","filled":true,"size":9,"opacity":1,"clip":true},"encoding":{
    "x":{"field":"R","type":"quantitative","axis":null},"y":{"field":"v","type":"quantitative","axis":null},"color":{"field":"s","type":"nominal","legend":null}}}
 ]},
{"width":138,"height":106,"title":"[Z/H]SSP, dex","data":{"name":"zh"},
 "resolve":{"axis":{"x":"independent","y":"independent"}},
 "layer":[
  {"data":{"values":[{}]},"mark":{"type":"rule","color":"#b0b0b0","strokeDash":[1,1.5],"strokeWidth":0.8},"encoding":{"x":{"datum":0,"type":"quantitative","axis":null}}},
  {"mark":{"type":"point","opacity":0},"encoding":{
    "x":{"field":"R","type":"quantitative","scale":{"domain":[-10,10],"nice":false,"zero":false},"axis":{"orient":"bottom","values":[-10,-5,0,5,10],"format":"d","title":"R, arcsec"}},
    "y":{"field":"v","type":"quantitative","scale":{"domain":[-2,0.5],"nice":false,"zero":false},"axis":{"orient":"left","values":[-2,-1.5,-1,-0.5,0,0.5],"format":".1f","title":null}}}},
  {"mark":{"type":"point","opacity":0},"encoding":{
    "x":{"field":"R","type":"quantitative","axis":{"orient":"top","values":[-10,-5,0,5,10],"labels":false,"title":null}},
    "y":{"field":"v","type":"quantitative","axis":{"orient":"right","values":[-2,-1.5,-1,-0.5,0,0.5],"labels":false,"title":null}}}},
  {"mark":{"type":"point","opacity":0},"encoding":{
    "x":{"field":"R","type":"quantitative","axis":{"orient":"bottom","values":[-9,-8,-7,-6,-4,-3,-2,-1,1,2,3,4,6,7,8,9],"labels":false,"tickSize":-2,"title":null}},
    "y":{"field":"v","type":"quantitative","axis":{"orient":"left","values":[-1.9,-1.8,-1.7,-1.6,-1.4,-1.3,-1.2,-1.1,-0.9,-0.8,-0.7,-0.6,-0.4,-0.3,-0.2,-0.1,0.1,0.2,0.3,0.4],"labels":false,"tickSize":-2,"title":null}}}},
  {"mark":{"type":"point","opacity":0},"encoding":{
    "x":{"field":"R","type":"quantitative","axis":{"orient":"top","values":[-9,-8,-7,-6,-4,-3,-2,-1,1,2,3,4,6,7,8,9],"labels":false,"tickSize":-2,"title":null}},
    "y":{"field":"v","type":"quantitative","axis":{"orient":"right","values":[-1.9,-1.8,-1.7,-1.6,-1.4,-1.3,-1.2,-1.1,-0.9,-0.8,-0.7,-0.6,-0.4,-0.3,-0.2,-0.1,0.1,0.2,0.3,0.4],"labels":false,"tickSize":-2,"title":null}}}},
  {"mark":{"type":"rule","strokeWidth":0.8,"opacity":0.85,"clip":true},"encoding":{
    "x":{"field":"R","type":"quantitative","axis":null},"y":{"field":"lo","type":"quantitative","axis":null},"y2":{"field":"hi"},
    "color":{"field":"s","type":"nominal","scale":{"domain":["Main","CR"],"range":["#1c1c96","#4cb84c"]},"legend":null}}},
  {"mark":{"type":"tick","orient":"horizontal","size":3,"thickness":0.8,"opacity":0.85,"clip":true},"encoding":{
    "x":{"field":"R","type":"quantitative","axis":null},"y":{"field":"lo","type":"quantitative","axis":null},"color":{"field":"s","type":"nominal","legend":null}}},
  {"mark":{"type":"tick","orient":"horizontal","size":3,"thickness":0.8,"opacity":0.85,"clip":true},"encoding":{
    "x":{"field":"R","type":"quantitative","axis":null},"y":{"field":"hi","type":"quantitative","axis":null},"color":{"field":"s","type":"nominal","legend":null}}},
  {"mark":{"type":"point","shape":"square","filled":true,"size":9,"opacity":1,"clip":true},"encoding":{
    "x":{"field":"R","type":"quantitative","axis":null},"y":{"field":"v","type":"quantitative","axis":null},"color":{"field":"s","type":"nominal","legend":null}}}
 ]},
{"width":137,"height":106,"title":"Frelative","data":{"name":"frel"},
 "resolve":{"axis":{"x":"independent","y":"independent"}},
 "layer":[
  {"data":{"values":[{}]},"mark":{"type":"rule","color":"#b0b0b0","strokeDash":[1,1.5],"strokeWidth":0.8},"encoding":{"x":{"datum":0,"type":"quantitative","axis":null}}},
  {"mark":{"type":"point","opacity":0},"encoding":{
    "x":{"field":"R","type":"quantitative","scale":{"domain":[-10,10],"nice":false,"zero":false},"axis":{"orient":"bottom","values":[-10,-5,0,5,10],"format":"d","title":"R, arcsec"}},
    "y":{"field":"v","type":"quantitative","scale":{"domain":[0,1],"nice":false,"zero":false},"axis":{"orient":"left","values":[0,0.2,0.4,0.6,0.8,1],"format":".1f","title":null}}}},
  {"mark":{"type":"point","opacity":0},"encoding":{
    "x":{"field":"R","type":"quantitative","axis":{"orient":"top","values":[-10,-5,0,5,10],"labels":false,"title":null}},
    "y":{"field":"v","type":"quantitative","axis":{"orient":"right","values":[0,0.2,0.4,0.6,0.8,1],"labels":false,"title":null}}}},
  {"mark":{"type":"point","opacity":0},"encoding":{
    "x":{"field":"R","type":"quantitative","axis":{"orient":"bottom","values":[-9,-8,-7,-6,-4,-3,-2,-1,1,2,3,4,6,7,8,9],"labels":false,"tickSize":-2,"title":null}},
    "y":{"field":"v","type":"quantitative","axis":{"orient":"left","values":[0.05,0.1,0.15,0.25,0.3,0.35,0.45,0.5,0.55,0.65,0.7,0.75,0.85,0.9,0.95],"labels":false,"tickSize":-2,"title":null}}}},
  {"mark":{"type":"point","opacity":0},"encoding":{
    "x":{"field":"R","type":"quantitative","axis":{"orient":"top","values":[-9,-8,-7,-6,-4,-3,-2,-1,1,2,3,4,6,7,8,9],"labels":false,"tickSize":-2,"title":null}},
    "y":{"field":"v","type":"quantitative","axis":{"orient":"right","values":[0.05,0.1,0.15,0.25,0.3,0.35,0.45,0.5,0.55,0.65,0.7,0.75,0.85,0.9,0.95],"labels":false,"tickSize":-2,"title":null}}}},
  {"mark":{"type":"point","shape":"square","filled":true,"size":9,"opacity":1,"clip":true},"encoding":{
    "x":{"field":"R","type":"quantitative","axis":null},"y":{"field":"v","type":"quantitative","axis":null},
    "color":{"field":"s","type":"nominal","scale":{"domain":["Main","CR"],"range":["#1c1c96","#4cb84c"]},"legend":null}}}
 ]}
]
}
